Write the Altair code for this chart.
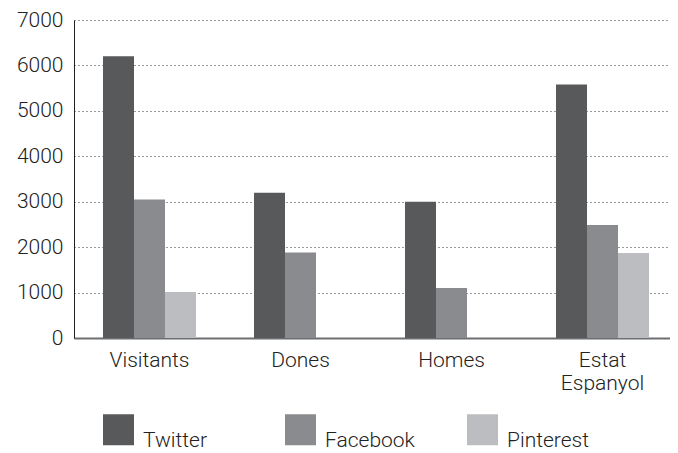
import altair as alt
import pandas as pd

categories = ["Visitants", "Dones", "Homes", "Estat Espanyol"]
networks = ["Twitter", "Facebook", "Pinterest"]
twitter = [6200, 3200, 3000, 5580]
facebook = [3050, 1880, 1100, 2490]
pinterest = [1010, 0, 0, 1870]
colors = ["#58595b", "#8a8b8e", "#bcbdc0"]

rows = []
for i, c in enumerate(categories):
    for n, vals in zip(networks, [twitter, facebook, pinterest]):
        rows.append({"cat": c, "net": n, "val": vals[i]})
df = pd.DataFrame(rows)

FONT = "Roboto"

chart = alt.Chart(df).mark_bar(strokeWidth=0).encode(
    x=alt.X("cat:N", sort=categories, title=None,
            scale=alt.Scale(paddingInner=0.384, paddingOuter=0.192, range=[0, 604]),
            axis=alt.Axis(labelAngle=0, labelExpr="split(datum.label, ' ')",
                          labelFontSize=21, labelFont=FONT, labelFontWeight=300,
                          labelColor="#222", labelPadding=11, ticks=False,
                          domainColor="#6d6e70", domainWidth=2, labelLineHeight=23)),
    xOffset=alt.XOffset("net:N", sort=networks),
    y=alt.Y("val:Q", title=None,
            scale=alt.Scale(domain=[0, 7000], nice=False),
            axis=alt.Axis(values=[0, 1000, 2000, 3000, 4000, 5000, 6000, 7000],
                          format="d",
                          labelFontSize=21, labelFont=FONT, labelFontWeight=300,
                          labelColor="#222", labelPadding=11, ticks=False,
                          domainColor="#222", domainWidth=1,
                          grid=True, gridDash=[1, 3], gridColor="#333", gridWidth=1)),
    color=alt.Color("net:N", sort=networks, title=None,
                    scale=alt.Scale(domain=networks, range=colors),
                    legend=alt.Legend(orient="none", legendX=29, legendY=394,
                                      direction="horizontal", symbolType="square",
                                      symbolSize=961, symbolStrokeWidth=0,
                                      labelFontSize=21, labelFont=FONT,
                                      labelFontWeight=300, labelColor="#222",
                                      labelOffset=9, columnPadding=52,
                                      gridAlign="all", labelBaseline="top")),
).properties(
    width=596, height=318,
    autosize=alt.AutoSizeParams(type="none"),
    padding={"left": 66, "top": 12, "right": 0, "bottom": 115},
).configure_view(stroke=None)

chart.save("out.html", embed_options={"renderer": "svg", "actions": False})
